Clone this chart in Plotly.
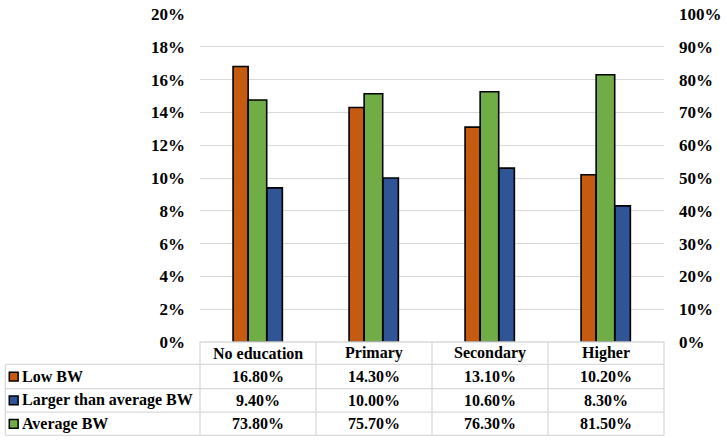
import plotly.graph_objects as go

categories = ["No education", "Primary", "Secondary", "Higher"]
low_bw = [16.8, 14.3, 13.1, 10.2]
larger_bw = [9.4, 10.0, 10.6, 8.3]
average_bw = [73.8, 75.7, 76.3, 81.5]
series_names = ["Low BW", "Larger than average BW", "Average BW"]
left_ticks = [0, 2, 4, 6, 8, 10, 12, 14, 16, 18, 20]
right_ticks = [0, 10, 20, 30, 40, 50, 60, 70, 80, 90, 100]

ORANGE = "#C55A11"
BLUE = "#2F5597"
GREEN = "#70AD47"
FONT = "Liberation Serif"

W, H = 727, 440
L, R, T, B = 200, 55, 5, 98
PW = W - L - R
PH = H - T - B
BOTTOM = H - B


def px_x(px):
    return (px - L) / PW


def px_y(py):
    return (BOTTOM - py) / PH


def bold(s):
    return f"<b>{s}</b>"


fig = go.Figure()
fig.add_trace(go.Bar(x=categories, y=[v / 100 for v in low_bw], name=series_names[0],
                     marker=dict(color=ORANGE, line=dict(color="black", width=1.6)),
                     offset=-0.215, width=0.13, yaxis="y"))
fig.add_trace(go.Bar(x=categories, y=[v / 100 for v in larger_bw], name=series_names[1],
                     marker=dict(color=BLUE, line=dict(color="black", width=1.6)),
                     offset=0.075, width=0.135, yaxis="y"))
fig.add_trace(go.Bar(x=categories, y=[v / 100 for v in average_bw], name=series_names[2],
                     marker=dict(color=GREEN, line=dict(color="black", width=1.6)),
                     offset=-0.085, width=0.16, yaxis="y2"))

shapes = []
annotations = []
grid = "#D9D9D9"

col_edges = [200 + i * PW / 4 for i in range(5)]
row_edges = [342, 365, 390, 414, 438]

shapes.append(dict(type="line", xref="paper", yref="paper", x0=px_x(200), x1=px_x(672),
                   y0=px_y(342), y1=px_y(342), line=dict(color=grid, width=1.3)))
for ry in row_edges[1:]:
    shapes.append(dict(type="line", xref="paper", yref="paper", x0=px_x(2), x1=px_x(672),
                       y0=px_y(ry), y1=px_y(ry), line=dict(color=grid, width=1.3)))
shapes.append(dict(type="line", xref="paper", yref="paper", x0=px_x(2), x1=px_x(2),
                   y0=px_y(365), y1=px_y(438), line=dict(color=grid, width=1.3)))
for cx in col_edges:
    shapes.append(dict(type="line", xref="paper", yref="paper", x0=px_x(cx), x1=px_x(cx),
                       y0=px_y(342), y1=px_y(438), line=dict(color=grid, width=1.3)))

tfont = dict(family=FONT, size=16, color="black")

for i, c in enumerate(categories):
    cxm = (col_edges[i] + col_edges[i + 1]) / 2
    annotations.append(dict(x=px_x(cxm), y=px_y((row_edges[0] + row_edges[1]) / 2),
                            xref="paper", yref="paper", text=bold(c), showarrow=False,
                            xanchor="center", yanchor="middle", font=tfont))

rows = [low_bw, larger_bw, average_bw]
colors = [ORANGE, BLUE, GREEN]
for r, (vals, name, col) in enumerate(zip(rows, series_names, colors)):
    yc = (row_edges[r + 1] + row_edges[r + 2]) / 2
    shapes.append(dict(type="rect", xref="paper", yref="paper", x0=px_x(6), x1=px_x(15),
                       y0=px_y(yc - 4.5), y1=px_y(yc + 4.5), fillcolor=col,
                       line=dict(color="black", width=1.5)))
    annotations.append(dict(x=px_x(17), y=px_y(yc), xref="paper", yref="paper",
                            text=bold(name), showarrow=False, xanchor="left",
                            yanchor="middle", font=tfont))
    for i, v in enumerate(vals):
        cxm = (col_edges[i] + col_edges[i + 1]) / 2
        annotations.append(dict(x=px_x(cxm), y=px_y(yc), xref="paper", yref="paper",
                                text=bold(f"{v:.2f}%"), showarrow=False,
                                xanchor="center", yanchor="middle", font=tfont))

fig.update_layout(
    width=W, height=H,
    margin=dict(l=L, r=R, t=T, b=B, pad=0),
    paper_bgcolor="white", plot_bgcolor="white",
    showlegend=False,
    barmode="overlay",
    font=dict(family=FONT, size=17, color="black"),
    xaxis=dict(showticklabels=False, showgrid=False, zeroline=False, showline=False,
               ticks="", range=[-0.5, 3.5]),
    yaxis=dict(range=[0, 0.2], tickvals=[t / 100 for t in left_ticks],
               ticktext=[bold(f"{t}%") for t in left_ticks],
               showgrid=True, gridcolor=grid, gridwidth=1.3, zeroline=False,
               showline=False, ticks="", ticklabelstandoff=14,
               ticklabeloverflow="allow",
               tickfont=dict(family=FONT, size=17, color="black")),
    yaxis2=dict(range=[0, 1.0], tickvals=[t / 100 for t in right_ticks],
                ticktext=[bold(f"{t}%") for t in right_ticks], overlaying="y", side="right",
                showgrid=False, zeroline=False, showline=False, ticks="",
                ticklabelstandoff=14, ticklabeloverflow="allow",
                tickfont=dict(family=FONT, size=17, color="black")),
    shapes=shapes,
    annotations=annotations,
)

fig.write_html("out.html")
